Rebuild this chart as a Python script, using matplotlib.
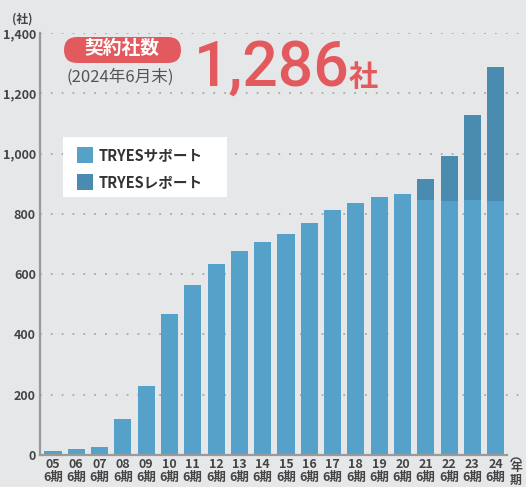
import numpy as np
import matplotlib
matplotlib.use("Agg")
from matplotlib import pyplot as plt
from matplotlib.patches import FancyBboxPatch, Rectangle, Arc

plt.rcParams['font.family'] = ['Noto Sans CJK JP', 'DejaVu Sans']

# Data
years = ["05", "06", "07", "08", "09", "10", "11", "12", "13", "14",
         "15", "16", "17", "18", "19", "20", "21", "22", "23", "24"]
support = [13, 20, 28, 120, 229, 468, 564, 634, 677, 707,
           733, 770, 813, 836, 856, 866, 845, 842, 845, 842]
total = [13, 20, 28, 120, 229, 468, 564, 634, 677, 707,
         733, 770, 813, 836, 856, 866, 916, 992, 1128, 1286]
report = [t - s for t, s in zip(total, support)]
yticks = [0, 200, 400, 600, 800, 1000, 1200, 1400]

bg = "#e6e7e9"
c_support = "#55a1c9"
c_report = "#4a8bb0"
red = "#e2595e"
txt = "#444444"

W, H = 526, 487
fig = plt.figure(figsize=(W / 100, H / 100), dpi=100, facecolor=bg)
ax = fig.add_axes([40 / W, 32 / H, 481 / W, 422 / H], facecolor=bg)

x = np.arange(len(years))
ax.bar(x, support, width=0.73, color=c_support, zorder=2, label="TRYESサポート")
ax.bar(x, report, width=0.73, bottom=support, color=c_report, zorder=2, label="TRYESレポート")

step = 23.3
ax.set_xlim(-13 / step, 468 / step)
ax.set_ylim(0, 1400)

for v in yticks[1:]:
    ax.axhline(v, color="#a8a9ab", lw=1.3, ls=(0, (1, 5)), zorder=1)

for s in ["top", "right"]:
    ax.spines[s].set_visible(False)
for s in ["left", "bottom"]:
    ax.spines[s].set_color("#9a9a9a")
    ax.spines[s].set_linewidth(1.6)
ax.spines["bottom"].set_bounds(-13 / step, 454 / step)

ax.set_yticks(yticks)
ax.set_yticklabels([f"{v:,}" for v in yticks], fontsize=9, color=txt, fontweight="bold")
ax.set_xticks(x)
ax.set_xticklabels([f"{y}\n6期" for y in years], fontsize=9, color=txt,
                   fontweight="bold", linespacing=1.05)
ax.tick_params(length=0, pad=3)
ax.tick_params(axis="x", pad=2)

fig.text(22 / W, 1 - 19 / H, "(社)", fontsize=8.5, color=txt, fontweight="bold",
         ha="center", va="center")
# unit "(年期)" written vertically
fig.patches.append(Arc((516 / W, 1 - 462 / H), 10 / W, 8 / H, theta1=0, theta2=180,
                       transform=fig.transFigure, color=txt, lw=1))
fig.text(516 / W, 1 - 474 / H, "年\n期", fontsize=8.5, color=txt, fontweight="bold",
         ha="center", va="center", linespacing=0.95)

# Title badge
pill = FancyBboxPatch((64 / W, 1 - 63 / H), 117 / W, 26 / H,
                      boxstyle="round,pad=0,rounding_size=0.025",
                      transform=fig.transFigure, facecolor=red, edgecolor="none",
                      mutation_aspect=W / H)
fig.patches.append(pill)
fig.text(122 / W, 1 - 49 / H, "契約社数", fontsize=13.5, color="white", fontweight="bold",
         ha="center", va="center")
fig.text(120 / W, 1 - 77 / H, "(2024年6月末)", fontsize=12, color="#555555",
         ha="center", va="center")
fig.text(194 / W, 1 - 86 / H, "1,286", fontsize=45, color=red, fontweight="medium",
         ha="left", va="baseline", family=["Roboto", "DejaVu Sans"])
fig.text(349 / W, 1 - 86 / H, "社", fontsize=21, color=red, fontweight="bold",
         ha="left", va="baseline")

# Legend box
fig.patches.append(Rectangle((63 / W, 1 - 197 / H), 164 / W, 60 / H,
                             transform=fig.transFigure, facecolor="white", edgecolor="none"))
for yy, col, lab in [(155, c_support, "TRYESサポート"), (182, c_report, "TRYESレポート")]:
    fig.patches.append(Rectangle((77 / W, 1 - (yy + 8) / H), 16 / W, 16 / H,
                                 transform=fig.transFigure, facecolor=col, edgecolor="none"))
    fig.text(99 / W, 1 - yy / H, lab, fontsize=10.5, color="#333333", fontweight="bold",
             ha="left", va="center")

fig.savefig("out.png", dpi=100, facecolor=bg)
